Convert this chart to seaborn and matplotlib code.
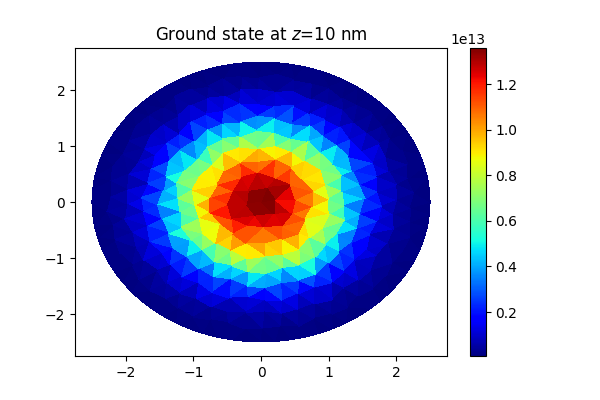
import numpy as np
import matplotlib
matplotlib.use("Agg")
import matplotlib.pyplot as plt
import matplotlib.tri as mtri
import seaborn as sns

# Mesh rings (radius in same units as axes) and density (x 1e13), ccw from east
ring_radii = [0.0, 0.25, 0.5, 0.75, 1.0, 1.25, 1.5, 1.75, 2.0, 2.25, 2.5]
ring_turn_deg = [0, 12, 5, 14, 3, 9, 2, 6, 1, 4, 0]
ring_nudge = [0.03, -0.03, 0.015, 0.04, -0.02, -0.04, 0.03, 0.00, -0.015, 0.04, -0.03, 0.01, 0.03, -0.04, 0.02]
ring_values = [
    [1.36],
    [1.34, 1.36, 1.32, 1.35, 1.31, 1.35],
    [1.14, 1.24, 1.27, 1.18, 1.25, 1.21, 1.29, 1.20, 1.24, 1.14, 1.25, 1.17],
    [0.96, 1.08, 0.96, 1.05, 1.00, 1.10, 0.94, 1.07, 1.00, 1.12, 1.03, 1.14, 0.97, 1.08, 0.98, 1.06, 0.95, 1.08],
    [0.86, 0.74, 0.90, 0.78, 0.90, 0.74, 0.87, 0.76, 0.85, 0.72, 0.88, 0.74, 0.82, 0.70, 0.84, 0.74, 0.92, 0.80,
     0.94, 0.78, 0.90, 0.74, 0.86, 0.70],
    [0.60, 0.46, 0.64, 0.48, 0.60, 0.44, 0.62, 0.47, 0.66, 0.50, 0.58, 0.43, 0.66, 0.48, 0.62, 0.46, 0.68, 0.52, 0.60,
     0.44, 0.64, 0.47, 0.58, 0.43, 0.68, 0.48, 0.66, 0.46, 0.62, 0.44],
    [0.34, 0.24, 0.37, 0.26, 0.35, 0.23, 0.37, 0.27, 0.40, 0.25, 0.37, 0.22, 0.38, 0.27, 0.37, 0.24, 0.41, 0.26, 0.35,
     0.23, 0.38, 0.27, 0.37, 0.22, 0.34, 0.26, 0.40, 0.24, 0.37, 0.27, 0.41, 0.25, 0.37, 0.23, 0.35, 0.25],
    [0.15, 0.10, 0.18, 0.11, 0.18, 0.09, 0.16, 0.12, 0.19, 0.10, 0.17, 0.12, 0.20, 0.11, 0.16, 0.09, 0.18, 0.12, 0.17,
     0.10, 0.19, 0.12, 0.16, 0.11, 0.18, 0.09, 0.17, 0.12, 0.20, 0.10, 0.16, 0.12, 0.19, 0.11, 0.17, 0.09, 0.18, 0.12,
     0.16, 0.10, 0.18, 0.11],
    [0.06, 0.04, 0.07, 0.04, 0.08, 0.04, 0.06, 0.05, 0.07, 0.04, 0.08, 0.05, 0.06, 0.04, 0.07, 0.05, 0.08, 0.04, 0.06,
     0.05, 0.07, 0.04, 0.06, 0.05, 0.08, 0.04, 0.07, 0.05, 0.06, 0.04, 0.08, 0.05, 0.07, 0.04, 0.06, 0.05, 0.08, 0.04,
     0.07, 0.05, 0.06, 0.04, 0.07, 0.05, 0.08, 0.04, 0.06, 0.05],
    [0.02, 0.015, 0.025, 0.015, 0.02, 0.015, 0.025, 0.015, 0.02, 0.015, 0.025, 0.015, 0.02, 0.015, 0.025, 0.015, 0.02,
     0.015, 0.025, 0.015, 0.02, 0.015, 0.025, 0.015, 0.02, 0.015, 0.025, 0.015, 0.02, 0.015, 0.025, 0.015, 0.02, 0.015,
     0.025, 0.015, 0.02, 0.015, 0.025, 0.015, 0.02, 0.015, 0.025, 0.015, 0.02, 0.015, 0.025, 0.015, 0.02, 0.015, 0.025,
     0.015, 0.02, 0.015],
    [0.007] * 72,
]
color_min, color_max = 0.007e13, 1.358e13
title_text = "Ground state at $z$=10 nm"

x_nodes, y_nodes, z_nodes = [], [], []
for i, (radius, turn, values) in enumerate(zip(ring_radii, ring_turn_deg, ring_values)):
    angles = np.linspace(0, 2 * np.pi, len(values), endpoint=False) + np.radians(turn)
    if 0 < i < len(ring_radii) - 1:
        nudges = np.resize(np.roll(ring_nudge, i * 2), len(values))
    else:
        nudges = np.zeros(len(values))
    x_nodes.extend((radius + nudges) * np.cos(angles))
    y_nodes.extend((radius + nudges) * np.sin(angles))
    z_nodes.extend(np.array(values) * 1e13)

mesh = mtri.Triangulation(x_nodes, y_nodes)

sns.reset_orig()
fig, ax = plt.subplots(figsize=(6, 4), dpi=100)
art = ax.tripcolor(mesh, z_nodes, cmap="jet", vmin=color_min, vmax=color_max)
ax.set_xlim(-2.75, 2.75)
ax.set_ylim(-2.75, 2.75)
ax.set_title(title_text)
fig.colorbar(art, ax=ax)
fig.savefig("out.png", dpi=100)
